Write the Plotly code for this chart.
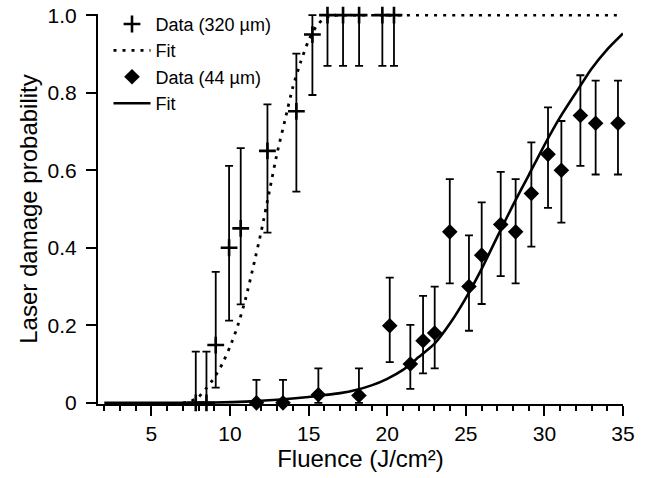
import plotly.graph_objects as go

# ---- data ----
# 320 um spot: fluence, probability, error-bar upper and lower bounds
x320 = [7.82, 8.5, 9.09, 9.94, 10.68, 12.38, 14.22, 15.24, 16.20, 17.19, 18.21, 19.69, 20.43]
y320 = [0.0, 0.0, 0.149, 0.40, 0.45, 0.65, 0.752, 0.95, 1.0, 1.0, 1.0, 1.0, 1.0]
up320 = [0.132, 0.132, 0.338, 0.611, 0.657, 0.77, 0.901, 1.0, 1.0, 1.0, 1.0, 1.0, 1.0]
lo320 = [0.0, 0.0, 0.039, 0.212, 0.254, 0.439, 0.545, 0.794, 0.869, 0.869, 0.869, 0.869, 0.869]

# 44 um spot
x44 = [11.68, 13.37, 15.62, 18.2, 20.16, 21.47, 22.28, 23.02, 23.98, 25.20, 26.01,
       27.22, 28.17, 29.17, 30.23, 31.08, 32.29, 33.26, 34.68]
y44 = [0.0, 0.0, 0.021, 0.019, 0.199, 0.10, 0.16, 0.18, 0.441, 0.30, 0.381,
       0.46, 0.441, 0.54, 0.641, 0.60, 0.741, 0.721, 0.721]
up44 = [0.059, 0.059, 0.089, 0.089, 0.323, 0.201, 0.276, 0.300, 0.577, 0.432, 0.517,
        0.596, 0.577, 0.672, 0.762, 0.727, 0.845, 0.831, 0.831]
lo44 = [0.0, 0.0, 0.0, 0.0, 0.105, 0.036, 0.076, 0.089, 0.308, 0.186, 0.255,
        0.327, 0.308, 0.403, 0.503, 0.465, 0.611, 0.589, 0.589]

# fit curves
fit320_x = [7.0, 7.5, 8.0, 8.5, 9.0, 9.5, 10.0, 10.5, 11.0, 11.5, 12.0, 12.5, 13.0,
            13.5, 14.0, 14.5, 15.0, 15.5, 16.0, 16.5, 17.0, 20.0, 25.0, 30.0, 35.0]
fit320_y = [0.0, 0.004, 0.015, 0.038, 0.065, 0.10, 0.145, 0.20, 0.27, 0.355, 0.445, 0.545,
            0.645, 0.73, 0.815, 0.88, 0.935, 0.972, 0.992, 0.999, 1.0, 1.0, 1.0, 1.0, 1.0]

fit44_x = [2, 5, 9, 11, 13, 15, 16, 17, 18, 19, 20, 21, 22, 23, 24, 25, 26, 27, 28,
           29, 30, 31, 32, 33, 34, 35]
fit44_y = [0.0, 0.0, 0.001, 0.003, 0.008, 0.015, 0.02, 0.025, 0.033, 0.045, 0.062, 0.085,
           0.118, 0.152, 0.205, 0.27, 0.345, 0.428, 0.51, 0.587, 0.665, 0.737, 0.80,
           0.862, 0.912, 0.953]

x_ticks = [5, 10, 15, 20, 25, 30, 35]
y_ticks = [0, 0.2, 0.4, 0.6, 0.8, 1.0]
y_tick_text = ["0", "0.2", "0.4", "0.6", "0.8", "1.0"]

FONT = "Liberation Sans, Arial, sans-serif"

def err(y, up, lo):
    return [u - v for u, v in zip(up, y)], [v - l for v, l in zip(y, lo)]

e320p, e320m = err(y320, up320, lo320)
e44p, e44m = err(y44, up44, lo44)

fig = go.Figure()

fig.add_trace(go.Scatter(
    x=x320, y=y320, mode="markers", name="Data (320 \u00b5m)",
    marker=dict(symbol="cross-thin", size=12, color="black",
                line=dict(width=2.6, color="black")),
    error_y=dict(type="data", symmetric=False, array=e320p, arrayminus=e320m,
                 color="black", thickness=1.8, width=4),
    cliponaxis=False,
))
fig.add_trace(go.Scatter(
    x=fit320_x, y=fit320_y, mode="lines", name="Fit",
    line=dict(color="black", width=2.8, dash="3px,6px", shape="spline", smoothing=0.6),
))
fig.add_trace(go.Scatter(
    x=x44, y=y44, mode="markers", name="Data (44 \u00b5m)",
    marker=dict(symbol="diamond", size=12, color="black"),
    error_y=dict(type="data", symmetric=False, array=e44p, arrayminus=e44m,
                 color="black", thickness=1.8, width=4),
    cliponaxis=False,
))
fig.add_trace(go.Scatter(
    x=fit44_x, y=fit44_y, mode="lines", name="Fit",
    line=dict(color="black", width=2.6, shape="spline", smoothing=0.6),
))

fig.update_layout(
    width=648, height=478,
    margin=dict(l=98, r=25, t=14, b=74, autoexpand=False),
    plot_bgcolor="white", paper_bgcolor="white",
    font=dict(family=FONT, color="black", size=21),
    showlegend=True,
    legend=dict(x=0.02, y=1.021, xanchor="left", yanchor="top",
                bgcolor="rgba(0,0,0,0)", font=dict(size=18, family=FONT),
                itemwidth=37, tracegroupgap=0),
    xaxis=dict(
        range=[1.6, 35], tickvals=x_ticks, ticktext=[str(t) for t in x_ticks],
        showline=True, linecolor="black", linewidth=2,
        ticks="outside", ticklen=10, tickwidth=2, tickcolor="black",
        minor=dict(dtick=1, tick0=0, ticks="outside", ticklen=5, tickwidth=1.5,
                   tickcolor="black", showgrid=False),
        showgrid=False, zeroline=False,
        tickfont=dict(size=21),
        title=dict(text="Fluence (J/cm\u00b2)", font=dict(size=24), standoff=4),
    ),
    yaxis=dict(
        range=[-0.003, 1.003], tickvals=y_ticks, ticktext=y_tick_text,
        showline=True, linecolor="black", linewidth=2,
        ticks="outside", ticklen=10, tickwidth=1.5, tickcolor="black",
        ticklabelstandoff=5,
        showgrid=False, zeroline=False,
        tickfont=dict(size=21),
        title=dict(text="Laser damage probability", font=dict(size=24), standoff=3),
    ),
)

fig.write_html("out.html")
